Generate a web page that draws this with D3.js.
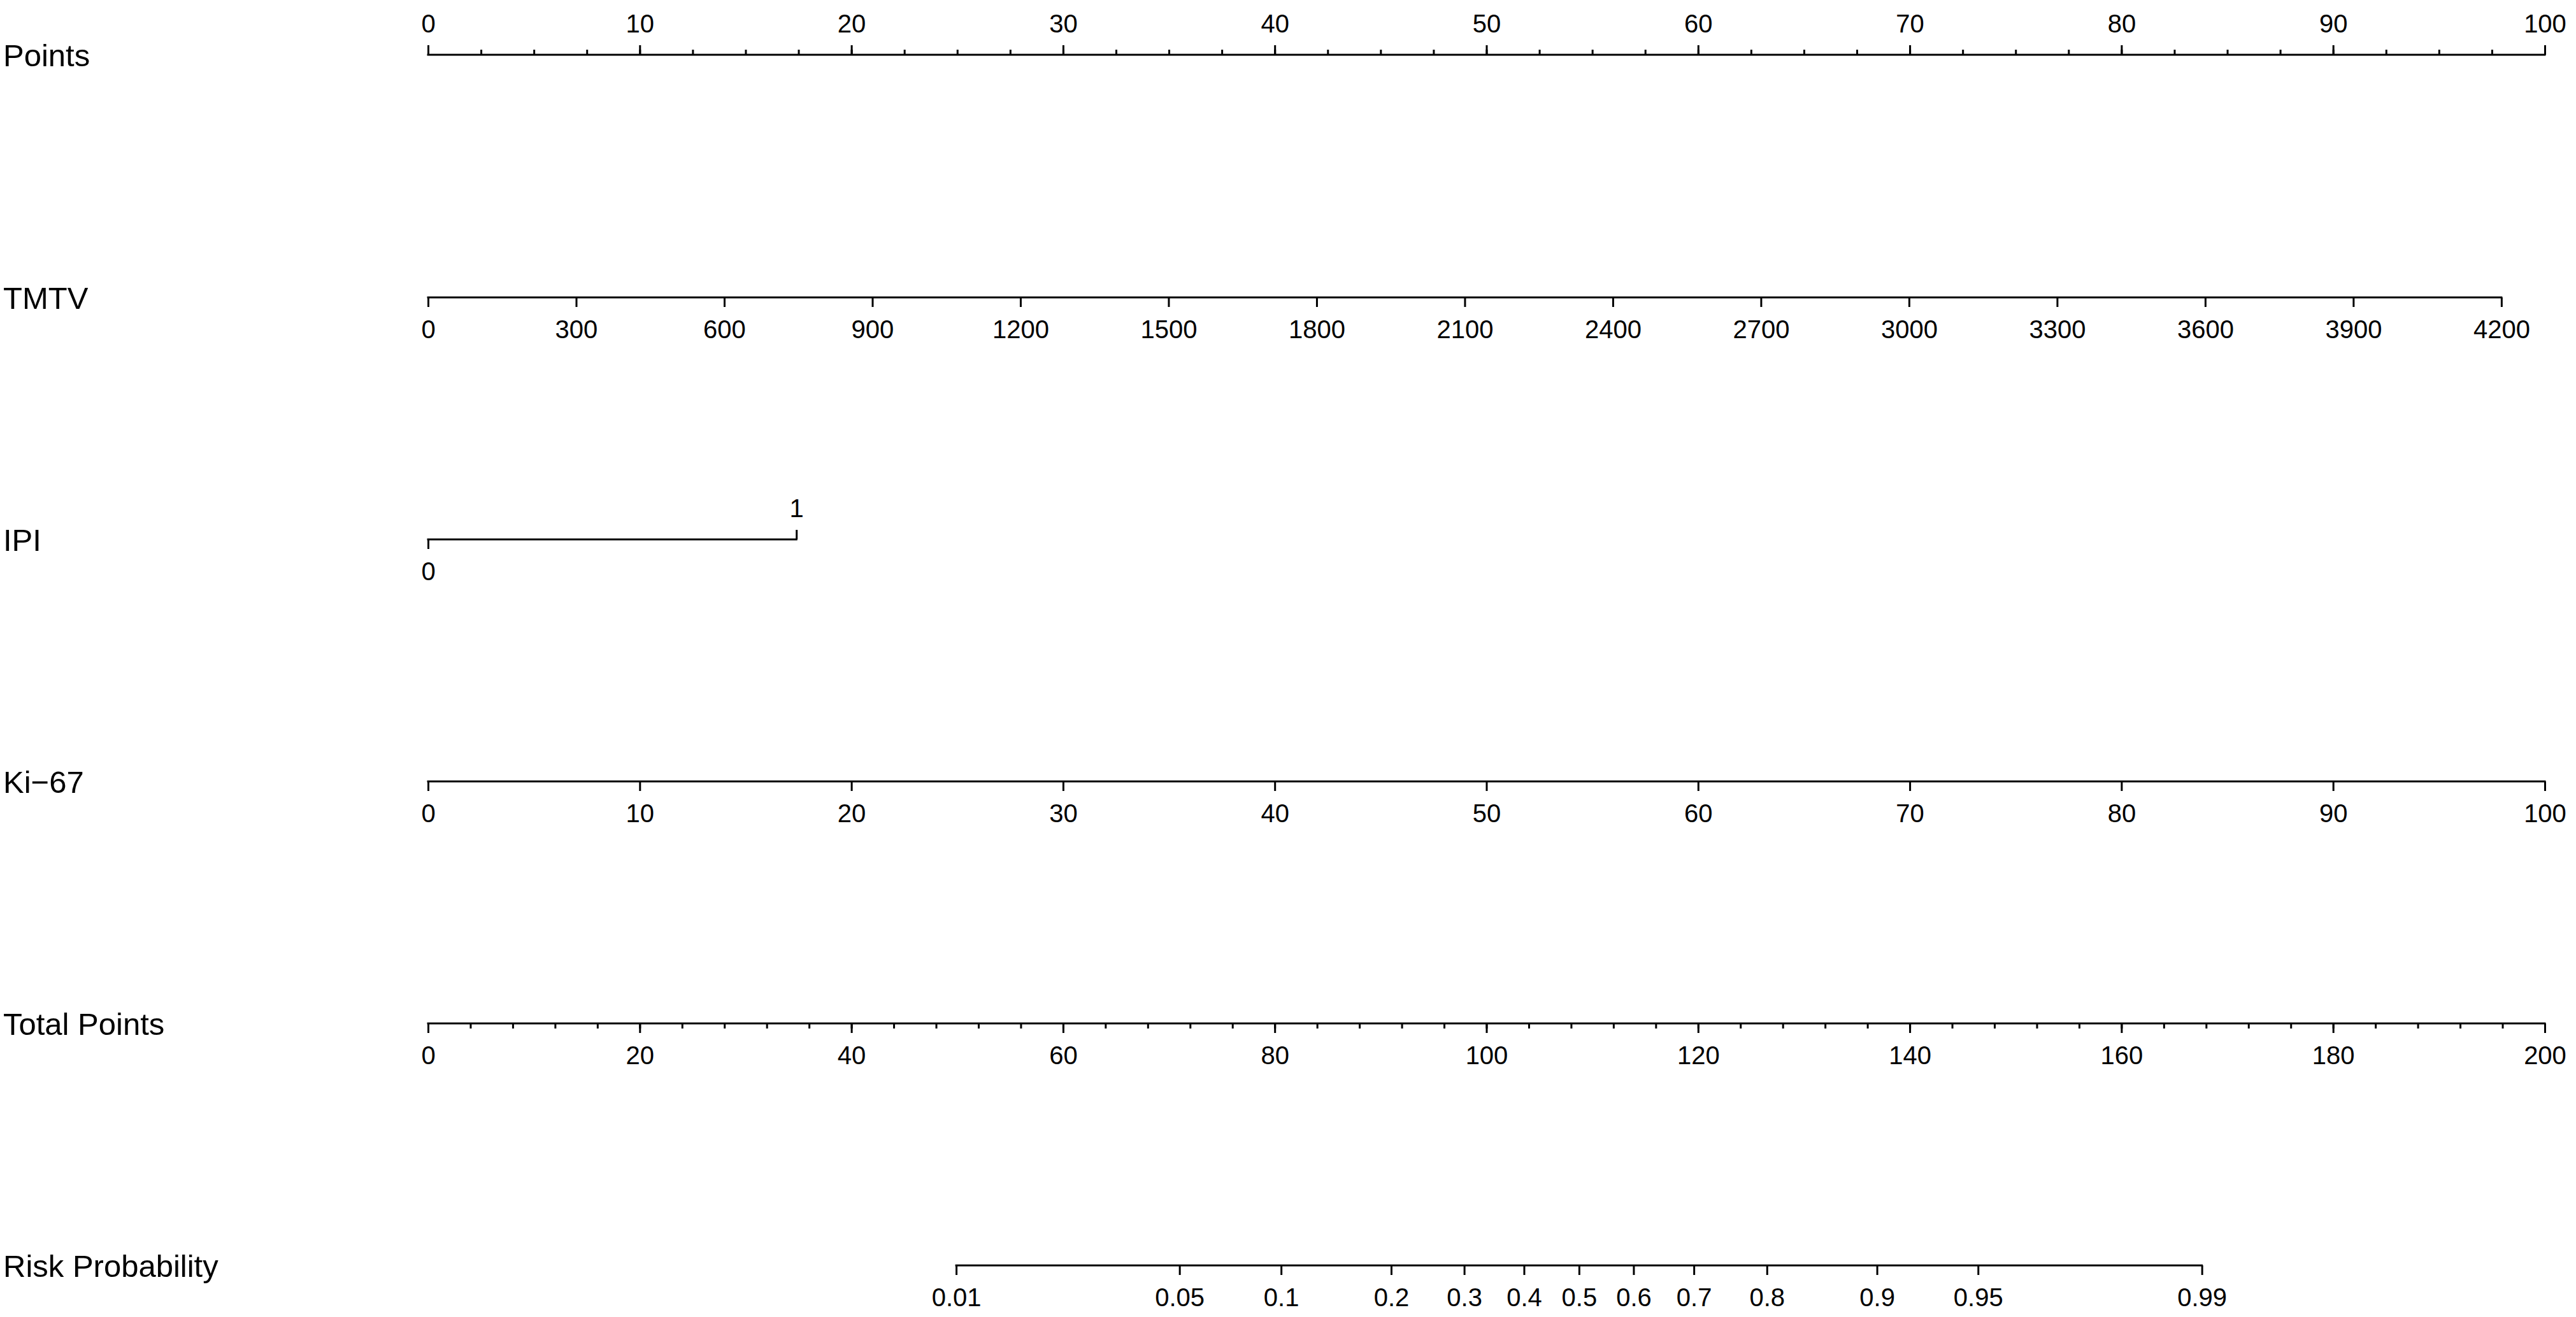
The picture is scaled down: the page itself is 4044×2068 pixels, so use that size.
<!DOCTYPE html>
<html>
<head>
<meta charset="utf-8">
<script src="https://cdn.jsdelivr.net/npm/d3@7"></script>
<style>
  html, body { margin: 0; padding: 0; background: #fff; }
  svg { display: block; }
</style>
</head>
<body>
<svg id="chart" width="4044" height="2068"></svg>
<script>
// ---------------- data ----------------
const rowLabels = ["Points", "TMTV", "IPI", "Ki\u221267", "Total Points", "Risk Probability"];

const pointsTicks = [0, 10, 20, 30, 40, 50, 60, 70, 80, 90, 100];
const pointsMinorStep = 2.5;

const tmtvTicks = [0, 300, 600, 900, 1200, 1500, 1800, 2100, 2400, 2700, 3000, 3300, 3600, 3900, 4200];
const tmtvMaxPoints = 97.95;          // points reached at TMTV = 4200

const ipiTicks = [0, 1];
const ipiPoints = [0, 17.4];          // points for IPI = 0 / 1

const ki67Ticks = [0, 10, 20, 30, 40, 50, 60, 70, 80, 90, 100];
const ki67MaxPoints = 100;

const totalTicks = [0, 20, 40, 60, 80, 100, 120, 140, 160, 180, 200];
const totalMinorStep = 4;

const riskTicks = ["0.01", "0.05", "0.1", "0.2", "0.3", "0.4", "0.5", "0.6", "0.7", "0.8", "0.9", "0.95", "0.99"];
const riskTotalPoints = [49.9, 71.0, 80.6, 91.0, 97.9, 103.55, 108.75, 113.9, 119.6, 126.5, 136.9, 146.45, 167.6];

// ---------------- layout ----------------
const svg = d3.select("#chart");
const X0 = 672, X1 = 3995;
const rowY = [86, 467, 847, 1227, 1607, 1987];
const FONT = "'Liberation Sans', Arial, Helvetica, sans-serif";
const TICK_FS = 40, LABEL_FS = 49;
const MAJOR = 15, MINOR = 8, SW = 3;

const xPoints = d3.scaleLinear().domain([0, 100]).range([X0, X1]);
const xTmtv = d3.scaleLinear().domain([0, 4200]).range([xPoints(0), xPoints(tmtvMaxPoints)]);
const xIpi = d3.scaleLinear().domain(ipiTicks).range(ipiPoints.map(p => xPoints(p)));
const xKi = d3.scaleLinear().domain([0, 100]).range([xPoints(0), xPoints(ki67MaxPoints)]);
const xTotal = d3.scaleLinear().domain([0, 200]).range([X0, X1]);
const xRisk = d3.scaleOrdinal().domain(riskTicks).range(riskTotalPoints.map(p => xTotal(p)));

// row labels
svg.selectAll("text.rowlab").data(rowLabels).enter().append("text")
  .attr("class", "rowlab")
  .attr("x", 5)
  .attr("y", (d, i) => rowY[i] + 18)
  .attr("font-family", FONT)
  .attr("font-size", LABEL_FS)
  .attr("fill", "#000")
  .text(d => d);

function style(g, showDomain) {
  g.attr("font-family", FONT).attr("font-size", TICK_FS);
  g.selectAll("line").attr("stroke", "#000").attr("stroke-width", SW);
  g.select(".domain").attr("stroke", "#000").attr("stroke-width", SW)
    .attr("display", showDomain ? null : "none");
  g.selectAll("text").attr("fill", "#000");
}

function drawLine(y, xa, xb) {
  svg.append("line").attr("x1", xa).attr("x2", xb).attr("y1", y).attr("y2", y)
    .attr("stroke", "#000").attr("stroke-width", SW).attr("stroke-linecap", "square");
}

function range(a, b, s) { const r = []; for (let v = a; v <= b + 1e-9; v += s) r.push(+v.toFixed(6)); return r; }

// Points (ticks above)
{
  const y = rowY[0];
  drawLine(y, X0, X1);
  const minor = svg.append("g").attr("transform", `translate(0,${y})`)
    .call(d3.axisTop(xPoints).tickValues(range(0, 100, pointsMinorStep)).tickSize(MINOR).tickSizeOuter(0).tickFormat(""));
  style(minor, false);
  const major = svg.append("g").attr("transform", `translate(0,${y})`)
    .call(d3.axisTop(xPoints).tickValues(pointsTicks).tickSize(MAJOR).tickSizeOuter(0).tickPadding(20).tickFormat(d3.format("d")));
  style(major, false);
}

// TMTV (ticks below)
{
  const y = rowY[1];
  drawLine(y, xTmtv(0), xTmtv(4200));
  const g = svg.append("g").attr("transform", `translate(0,${y})`)
    .call(d3.axisBottom(xTmtv).tickValues(tmtvTicks).tickSize(MAJOR).tickSizeOuter(0).tickPadding(21).tickFormat(d3.format("d")));
  style(g, false);
}

// IPI (1 above, 0 below)
{
  const y = rowY[2];
  drawLine(y, xIpi(0), xIpi(1));
  const up = svg.append("g").attr("transform", `translate(0,${y})`)
    .call(d3.axisTop(xIpi).tickValues([1]).tickSize(MAJOR).tickSizeOuter(0).tickPadding(20).tickFormat(d3.format("d")));
  style(up, false);
  const down = svg.append("g").attr("transform", `translate(0,${y})`)
    .call(d3.axisBottom(xIpi).tickValues([0]).tickSize(MAJOR).tickSizeOuter(0).tickPadding(21).tickFormat(d3.format("d")));
  style(down, false);
}

// Ki-67 (ticks below)
{
  const y = rowY[3];
  drawLine(y, xKi(0), xKi(100));
  const g = svg.append("g").attr("transform", `translate(0,${y})`)
    .call(d3.axisBottom(xKi).tickValues(ki67Ticks).tickSize(MAJOR).tickSizeOuter(0).tickPadding(21).tickFormat(d3.format("d")));
  style(g, false);
}

// Total Points (ticks below)
{
  const y = rowY[4];
  drawLine(y, X0, X1);
  const minor = svg.append("g").attr("transform", `translate(0,${y})`)
    .call(d3.axisBottom(xTotal).tickValues(range(0, 200, totalMinorStep)).tickSize(MINOR).tickSizeOuter(0).tickFormat(""));
  style(minor, false);
  const major = svg.append("g").attr("transform", `translate(0,${y})`)
    .call(d3.axisBottom(xTotal).tickValues(totalTicks).tickSize(MAJOR).tickSizeOuter(0).tickPadding(21).tickFormat(d3.format("d")));
  style(major, false);
}

// Risk Probability (ticks below)
{
  const y = rowY[5];
  drawLine(y, xRisk(riskTicks[0]), xRisk(riskTicks[riskTicks.length - 1]));
  const g = svg.append("g").attr("transform", `translate(0,${y})`)
    .call(d3.axisBottom(xRisk).tickValues(riskTicks).tickSize(MAJOR).tickSizeOuter(0).tickPadding(21));
  style(g, false);
}
</script>
</body>
</html>
